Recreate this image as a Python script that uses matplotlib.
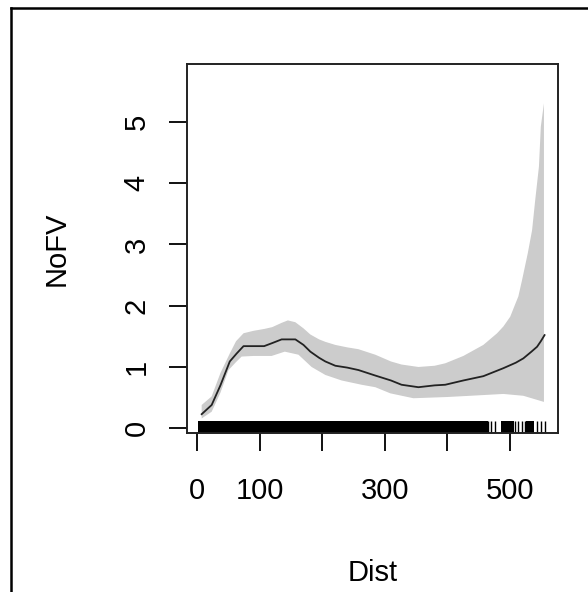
import matplotlib
matplotlib.use("Agg")
import matplotlib.pyplot as plt
import numpy as np
from matplotlib.lines import Line2D

plt.rcParams["font.family"] = ["Liberation Sans", "DejaVu Sans"]

# fitted smooth
fit_x = [7, 23, 37, 52, 63, 74, 90, 107, 120, 135, 157, 170, 181, 195, 205,
         221, 240, 258, 285, 310, 327, 354, 380, 397, 426, 458, 490, 510,
         522, 535, 544, 550, 556]
fit_y = [0.23, 0.38, 0.70, 1.09, 1.22, 1.34, 1.34, 1.34, 1.39, 1.45, 1.45,
         1.36, 1.25, 1.15, 1.09, 1.02, 0.99, 0.95, 0.86, 0.78, 0.71, 0.67,
         0.70, 0.71, 0.78, 0.85, 0.98, 1.07, 1.14, 1.25, 1.33, 1.42, 1.52]

# upper confidence band
up_x = [7, 23, 37, 52, 62, 74, 90, 107, 120, 135, 145, 157, 170, 181, 195,
        205, 221, 240, 258, 285, 310, 327, 354, 380, 397, 426, 458, 480,
        490, 501, 510, 514, 520, 529, 536, 541, 547, 550, 555]
up_y = [0.38, 0.52, 0.90, 1.22, 1.42, 1.55, 1.59, 1.62, 1.65, 1.72, 1.76,
        1.73, 1.63, 1.53, 1.45, 1.41, 1.36, 1.32, 1.29, 1.20, 1.09, 1.04,
        1.00, 1.02, 1.06, 1.18, 1.36, 1.55, 1.66, 1.82, 2.05, 2.15, 2.42,
        2.85, 3.23, 3.72, 4.27, 4.92, 5.30]

# lower confidence band
lo_x = [7, 23, 37, 50, 62, 71, 90, 119, 140, 162, 183, 205, 231, 263, 285,
        309, 346, 400, 437, 490, 522, 555]
lo_y = [0.16, 0.27, 0.58, 0.95, 1.08, 1.17, 1.18, 1.18, 1.25, 1.20, 1.00,
        0.87, 0.78, 0.71, 0.67, 0.57, 0.49, 0.51, 0.53, 0.56, 0.53, 0.43]

# rug of observed distances (dense part merges into a bar)
rug_dense = [5, 10, 15, 20, 25, 30, 35, 40, 45, 50, 55, 60, 65, 70, 75, 80,
             85, 90, 95, 100, 105, 110, 115, 120, 125, 130, 135, 140, 145,
             150, 155, 160, 165, 170, 175, 180, 185, 190, 195, 200, 205, 210,
             215, 220, 225, 230, 235, 240, 245, 250, 255, 260, 265, 270, 275,
             280, 285, 290, 295, 300, 305, 310, 315, 320, 325, 330, 335, 340,
             345, 350, 355, 360, 365, 370, 375, 380, 385, 390, 395, 400, 405,
             410, 415, 420, 425, 428,
             434, 438, 442, 446, 450, 454, 458, 460,
             489, 493, 497, 501, 503,
             529, 532, 535]
rug_sparse = [465, 470, 477, 509, 514, 520, 525, 544, 550, 557]

x_ticks = [0, 100, 200, 300, 400, 500]
x_labels = ["0", "100", "", "300", "", "500"]
y_ticks = [0, 1, 2, 3, 4, 5]

fig = plt.figure(figsize=(5.88, 5.92), dpi=100)
ax = fig.add_axes([0.3175, 0.2686, 0.632, 0.6233])

band_x = np.concatenate([up_x, lo_x[::-1]])
band_y = np.concatenate([up_y, lo_y[::-1]])
ax.fill(band_x, band_y, color="#cccccc", lw=0)
ax.plot(fit_x, fit_y, color="#222222", lw=1.3)

trans = ax.get_xaxis_transform()
ax.vlines(rug_dense, 0, 0.033, transform=trans, color="black", lw=3.6,
          capstyle="butt", antialiased=False)
ax.vlines(rug_sparse, 0, 0.033, transform=trans, color="black", lw=1.0,
          capstyle="butt")

ax.set_xlim(-17, 578)
ax.set_ylim(-0.077, 5.943)

ax.set_xticks(x_ticks)
ax.set_xticklabels(x_labels, fontsize=21)
ax.set_yticks(y_ticks)
ax.set_yticklabels([str(v) for v in y_ticks], fontsize=21,
                   rotation=90, va="center")
ax.tick_params(direction="out", length=13, width=1.4, color="#111111")
ax.tick_params(axis="x", pad=19)
ax.tick_params(axis="y", pad=13)

for s in ax.spines.values():
    s.set_linewidth(1.4)
    s.set_color("#222222")

ax.set_xlabel("Dist", fontsize=21, va="center")
ax.xaxis.set_label_coords(0.5, -0.38)
ax.set_ylabel("NoFV", fontsize=21, va="center")
ax.yaxis.set_label_coords(-0.349, 0.5)

# outer frame of the screenshot
fig.add_artist(Line2D([0.0179, 1.0], [0.9873, 0.9873], color="black", lw=1.8))
fig.add_artist(Line2D([0.0179, 0.0179], [0.0, 0.9873], color="black", lw=1.8))

fig.savefig("out.png", dpi=100)
plt.close(fig)
